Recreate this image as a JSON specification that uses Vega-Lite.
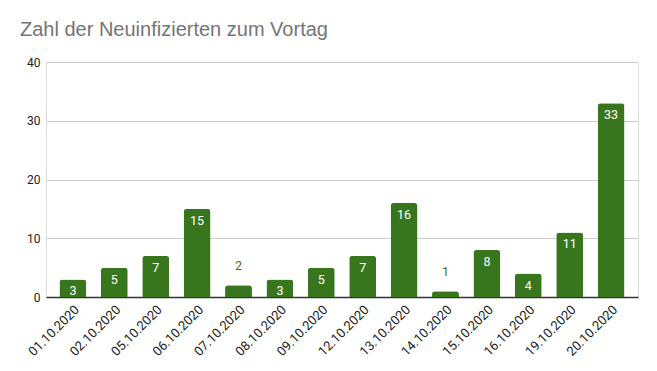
{
  "$schema": "https://vega.github.io/schema/vega-lite/v6.json",
  "autosize": {"type": "none"},
  "width": 592,
  "height": 235,
  "padding": {"left": 46, "top": 62, "right": 19, "bottom": 74},
  "background": "white",
  "title": {
    "text": "Zahl der Neuinfizierten zum Vortag",
    "anchor": "start",
    "frame": "group",
    "font": "Liberation Sans",
    "fontSize": 20,
    "fontWeight": "normal",
    "color": "#757575",
    "dx": -26,
    "offset": 16
  },
  "data": {
    "values": [
      {"datum": "01.10.2020", "v": 3},
      {"datum": "02.10.2020", "v": 5},
      {"datum": "05.10.2020", "v": 7},
      {"datum": "06.10.2020", "v": 15},
      {"datum": "07.10.2020", "v": 2},
      {"datum": "08.10.2020", "v": 3},
      {"datum": "09.10.2020", "v": 5},
      {"datum": "12.10.2020", "v": 7},
      {"datum": "13.10.2020", "v": 16},
      {"datum": "14.10.2020", "v": 1},
      {"datum": "15.10.2020", "v": 8},
      {"datum": "16.10.2020", "v": 4},
      {"datum": "19.10.2020", "v": 11},
      {"datum": "20.10.2020", "v": 33}
    ]
  },
  "encoding": {
    "x": {
      "field": "datum",
      "type": "nominal",
      "sort": null,
      "scale": {"paddingInner": 0.35, "paddingOuter": 0.325},
      "axis": {
        "title": null,
        "labelAngle": -45,
        "labelAlign": "right",
        "labelBaseline": "top",
        "labelFont": "Roboto",
        "labelFontSize": 13,
        "labelColor": "#222222",
        "labelPadding": 6,
        "ticks": false,
        "domainColor": "#333333",
        "domainWidth": 1.5
      }
    },
    "y": {
      "field": "v",
      "type": "quantitative",
      "scale": {"domain": [0, 40]},
      "axis": {
        "title": null,
        "values": [0, 10, 20, 30, 40],
        "labelFont": "Roboto",
        "labelFontSize": 12,
        "labelColor": "#222222",
        "labelPadding": 6,
        "ticks": false,
        "domain": false,
        "gridColor": "#cccccc",
        "grid": true
      }
    }
  },
  "layer": [
    {
      "mark": {"type": "bar", "color": "#38761d", "cornerRadiusTopLeft": 3, "cornerRadiusTopRight": 3}
    },
    {
      "transform": [{"filter": "datum.v >= 3"}],
      "mark": {"type": "text", "color": "white", "font": "Roboto", "fontSize": 12.5, "baseline": "middle", "dy": 12},
      "encoding": {"text": {"field": "v", "type": "quantitative"}}
    },
    {
      "transform": [{"filter": "datum.v < 3"}],
      "mark": {"type": "text", "color": "#38761d", "font": "Roboto", "fontSize": 12.5, "baseline": "middle", "dy": -19},
      "encoding": {"text": {"field": "v", "type": "quantitative"}}
    }
  ]
}
